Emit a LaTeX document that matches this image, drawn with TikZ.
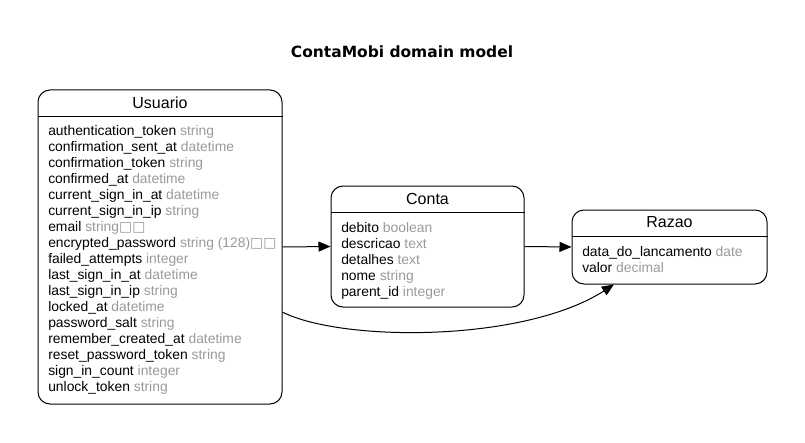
\documentclass[tikz,border=0pt]{standalone}
\usepackage{fontspec}
\setmainfont{Liberation Sans}
\newfontfamily\titlefont{DejaVu Sans}
\newfontfamily\glyphfont{DejaVu Sans}
\usetikzlibrary{arrows.meta,positioning}
\definecolor{typegray}{HTML}{9A9A9A}

\begin{document}
\begin{tikzpicture}[
    x=0.75pt, y=-0.75pt,
    entity/.style={draw=black, line width=0.75pt, rounded corners=9pt, inner sep=0pt},
    entity title/.style={inner sep=0pt, font=\fontsize{12}{14}\selectfont},
    field/.style={anchor=west, inner sep=0pt, text height=7pt, text depth=2pt, font=\fontsize{10.4}{12}\selectfont},
    relation/.style={draw=black, line width=0.75pt, -{Triangle[length=9pt, width=7.5pt]}}
]
\useasboundingbox (0,0) rectangle (805,442);

% Title
\node[font=\titlefont\bfseries\fontsize{11.6}{14}\selectfont] (title) at (402, 52) {ContaMobi domain model};

% Entities
\node[entity, minimum width=183pt, minimum height=235.5pt] (usuario) at (160, 247) {};
\node[entity, minimum width=144.75pt, minimum height=90.75pt] (conta) at (427.5, 246.5) {};
\node[entity, minimum width=146.25pt, minimum height=55.5pt] (razao) at (669.5, 247) {};

% Header lines and names
\foreach \e/\name in {usuario/Usuario, conta/Conta, razao/Razao} {
    \draw[line width=0.75pt] ([yshift=-20.25pt]\e.north west) -- ([yshift=-20.25pt]\e.north east);
    \node[entity title] (\e-title) at ([yshift=-9.75pt]\e.north) {\name};
}

% Attributes
\foreach \fname/\ftype [count=\i] in {
    authentication\_token/string, confirmation\_sent\_at/datetime,
    confirmation\_token/string, confirmed\_at/datetime,
    current\_sign\_in\_at/datetime, current\_sign\_in\_ip/string,
    email/{string{\glyphfont □□}}, encrypted\_password/{string (128){\glyphfont □□}},
    failed\_attempts/integer, last\_sign\_in\_at/datetime,
    last\_sign\_in\_ip/string, locked\_at/datetime,
    password\_salt/string, remember\_created\_at/datetime,
    reset\_password\_token/string, sign\_in\_count/integer,
    unlock\_token/string} {
    \node[field] (usuario-f\i) at (48, 116.5+16*\i) {\fname\ \textcolor{typegray}{\ftype}};
}
\foreach \fname/\ftype [count=\i] in {
    debito/boolean, descricao/text, detalhes/text, nome/string, parent\_id/integer} {
    \node[field] (conta-f\i) at (341, 213.5+16*\i) {\fname\ \textcolor{typegray}{\ftype}};
}
\foreach \fname/\ftype [count=\i] in {
    data\_do\_lancamento/date, valor/decimal} {
    \node[field] (razao-f\i) at (582, 237.5+16*\i) {\fname\ \textcolor{typegray}{\ftype}};
}

% Relations
\draw[relation] (usuario.east) -- (conta.west);
\draw[relation] (conta.east) -- (razao.west);
\draw[relation] (usuario.-28) .. controls +(60,30) and +(-90,58) .. (razao.-146);
\end{tikzpicture}
\end{document}
